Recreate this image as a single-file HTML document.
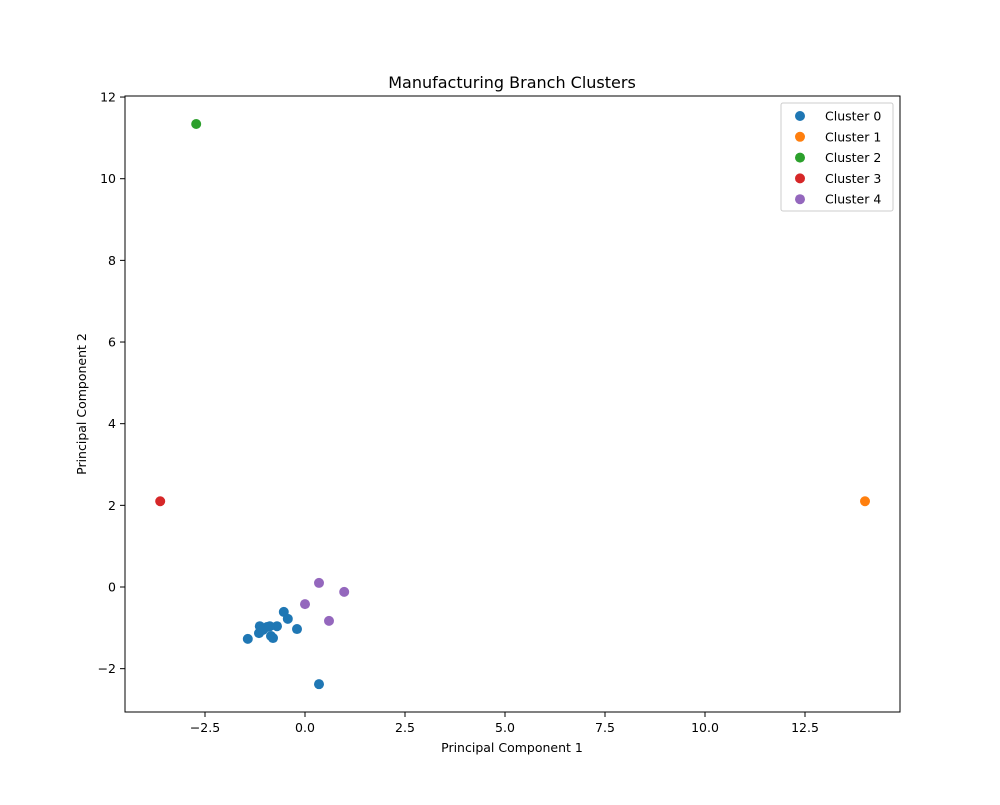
<!DOCTYPE html>
<html><head><meta charset="utf-8"><style>
body{margin:0;background:#fff;font-family:"Liberation Sans","DejaVu Sans",sans-serif}
</style></head><body>
<svg id="chart" width="1000" height="800" xmlns="http://www.w3.org/2000/svg" font-family="DejaVu Sans, Liberation Sans, sans-serif">
<rect width="1000" height="800" fill="#fff"/>
<text x="512" y="88" text-anchor="middle" font-size="16">Manufacturing Branch Clusters</text>
<g id="ticks"></g>
<g id="points"></g>
<rect x="125" y="96" width="775" height="616" fill="none" stroke="#000" stroke-width="1"/>
<text x="512" y="752" text-anchor="middle" font-size="12.5">Principal Component 1</text>
<text transform="translate(86,404) rotate(-90)" text-anchor="middle" font-size="12.5">Principal Component 2</text>
<g id="legend">
<rect x="781" y="103" width="112" height="108" fill="#fff" stroke="#ccc" rx="2"/>
</g>
</svg>
<script>
const clusterNames=["Cluster 0","Cluster 1","Cluster 2","Cluster 3","Cluster 4"];
const colors=["#1f77b4","#ff7f0e","#2ca02c","#d62728","#9467bd"];
const c0x=[-1.43,-1.15,-1.13,-0.95,-0.85,-0.80,-0.70,-0.53,-0.43,-0.20,0.35,-1.05,-0.88];
const c0y=[-1.27,-1.13,-0.96,-0.98,-1.20,-1.25,-0.96,-0.61,-0.78,-1.03,-2.38,-1.05,-0.96];
const c1x=[14.0], c1y=[2.1];
const c2x=[-2.72], c2y=[11.34];
const c3x=[-3.62], c3y=[2.1];
const c4x=[0.35,0.98,0.0,0.6];
const c4y=[0.10,-0.12,-0.42,-0.83];
const xTicks=[-2.5,0,2.5,5,7.5,10,12.5];
const xTickLabels=["−2.5","0.0","2.5","5.0","7.5","10.0","12.5"];
const yTicks=[-2,0,2,4,6,8,10,12];
const yTickLabels=["−2","0","2","4","6","8","10","12"];
const NS="http://www.w3.org/2000/svg";
const sx=v=>305+v*40;
const sy=v=>587-v*40.83;
function mk(t,a,p){const e=document.createElementNS(NS,t);for(const k in a)e.setAttribute(k,a[k]);p.appendChild(e);return e;}
const tg=document.getElementById('ticks');
xTicks.forEach((v,i)=>{
 const l=mk('line',{x1:sx(v),x2:sx(v),y1:712,y2:717,stroke:'#000'},tg);
 
 
 const t=mk('text',{x:sx(v),y:732,'text-anchor':'middle','font-size':12.5},tg);t.textContent=xTickLabels[i];
 
 
});
yTicks.forEach((v,i)=>{
 const l=mk('line',{x1:120,x2:125,y1:sy(v),y2:sy(v),stroke:'#000'},tg);
 
 
 const t=mk('text',{x:116,y:sy(v)+4.5,'text-anchor':'end','font-size':12.5},tg);t.textContent=yTickLabels[i];
 
 
});
const pg=document.getElementById('points');
const xs=[c0x,c1x,c2x,c3x,c4x], ys=[c0y,c1y,c2y,c3y,c4y];
xs.forEach((arr,c)=>arr.forEach((v,i)=>{
 const p=mk('circle',{cx:sx(v),cy:sy(ys[c][i]),r:5,fill:colors[c]},pg);
 
 
}));
const lg=document.getElementById('legend');
clusterNames.forEach((n,i)=>{
 const y=116+i*20.8;
 const m=mk('circle',{cx:800,cy:y,r:5,fill:colors[i]},lg);
 
 
 const t=mk('text',{x:825,y:y+4.5,'font-size':12.5},lg);t.textContent=n;
 
 
});
</script>
</body></html>
